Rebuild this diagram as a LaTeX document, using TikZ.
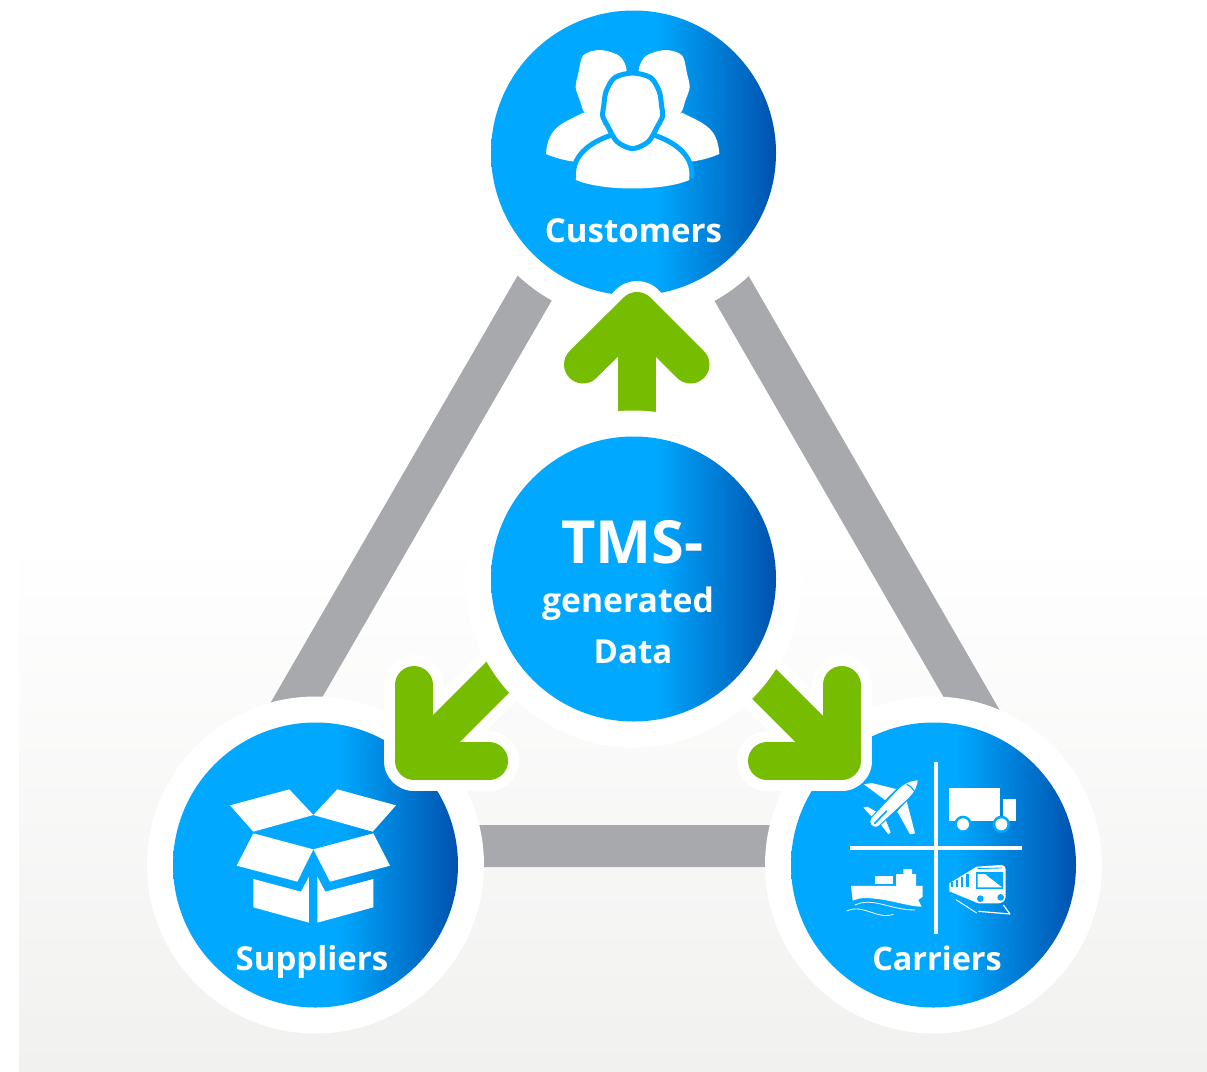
\documentclass[tikz,border=0pt]{standalone}
\usepackage{fontspec}
\setmainfont{Open Sans}
\pgfdeclarehorizontalshading{hubshade}{100bp}{rgb(0bp)=(0,0.66,1); rgb(25bp)=(0,0.66,1); rgb(54bp)=(0,0.66,1); rgb(75bp)=(0,0.32,0.68); rgb(100bp)=(0,0.32,0.68)}
\definecolor{barGray}{HTML}{A7A9AC}
\definecolor{arrowGreen}{HTML}{76BC00}
\definecolor{hubBlue}{HTML}{00A8FF}
\definecolor{floorGray}{HTML}{F1F1F0}
\tikzset{
    hub/.style={circle, minimum size=285pt, inner sep=0pt, shading=hubshade},
    halo/.style={circle, minimum size=337pt, inner sep=0pt, fill=white},
    hublabel/.style={text=white, font=\bfseries\fontsize{33}{36}\selectfont, inner sep=0pt, anchor=base},
    bar/.style={barGray, line width=42pt, line join=miter},
    arrowback/.style={white, line width=60pt, line cap=round, line join=round},
    arrowfront/.style={arrowGreen, line width=38pt, line cap=round, line join=round},
    shaft/.style={arrowGreen, line width=38pt},
}
\begin{document}
\begin{tikzpicture}[x=1pt, y=-1pt]
    \useasboundingbox (0,0) rectangle (1207,1071);
    \shade[top color=white, bottom color=floorGray] (19,540) rectangle (1207,1071);

    % corners of the triangle
    \coordinate (topcorner) at (633,118);
    \coordinate (leftcorner) at (212,846);
    \coordinate (rightcorner) at (1054,846);
    \draw[bar] (topcorner) -- (rightcorner) -- (leftcorner) -- cycle;

    % outer circles
    \node (customershalo) at (633.5,153) [halo] {};
    \node (suppliershalo) at (315.5,865) [halo] {};
    \node (carriershalo) at (933.5,865) [halo] {};
    \node (customers) at (633.5,153) [hub] {};
    \node (suppliers) at (315.5,865) [hub] {};
    \node (carriers) at (933.5,865) [hub] {};

    % arrows
    \coordinate (upstart) at (637,420);
    \coordinate (uptip) at (637,311);
    \coordinate (upleft) at (583,364.5);
    \coordinate (upright) at (690.5,364.5);
    \coordinate (leftstart) at (530,645);
    \coordinate (leftcorn) at (414,761);
    \coordinate (leftup) at (414,685);
    \coordinate (leftside) at (489,761);
    \coordinate (rightstart) at (725,645);
    \coordinate (rightcorn) at (841.5,761);
    \coordinate (rightup) at (841.5,685);
    \coordinate (rightside) at (767,761);

    \draw[arrowback] (upleft) -- (uptip) -- (upright);
    \draw[arrowback] (leftup) -- (leftcorn) -- (leftside);
    \draw[arrowback] (rightup) -- (rightcorn) -- (rightside);
    \draw[arrowback, line cap=butt] (leftstart) -- (leftcorn);
    \draw[arrowback, line cap=butt] (rightstart) -- (rightcorn);
    \draw[shaft] (upstart) -- (uptip);
    \draw[arrowfront] (upleft) -- (uptip) -- (upright);
    \draw[shaft] (leftstart) -- (leftcorn);
    \draw[arrowfront] (leftup) -- (leftcorn) -- (leftside);
    \draw[shaft] (rightstart) -- (rightcorn);
    \draw[arrowfront] (rightup) -- (rightcorn) -- (rightside);

    % middle circle
    \node (datahalo) at (633.5,579) [halo] {};
    \node (data) at (633.5,579) [hub] {};

    \node (customerstext) at (633.5,242) [hublabel] {Customers};
    \node (supplierstext) at (312,970) [hublabel] {Suppliers};
    \node (carrierstext) at (937,970) [hublabel, font=\bfseries\fontsize{32.4}{36}\selectfont] {Carriers};
    \node (tmstext) at (632.5,563.5) [hublabel, font=\bfseries\fontsize{59.5}{62}\selectfont] {TMS-};
    \node (generatedtext) at (628,612.5) [hublabel, font=\bfseries\fontsize{33.7}{36}\selectfont] {generated};
    \node (datatext) at (633,663) [hublabel] {Data};

    % people
    \begin{scope}[shift={(530,30)}, scale=0.3333]
        \foreach \flip in {1,-1} {
            \begin{scope}[shift={(308,0)}, xscale=\flip]
                \fill[white] plot[smooth cycle] coordinates {(-98,60) (-148,76) (-163,130) (-171,172) (-158,212) (-143,250) (-92,284) (-30,210) (-18,122) (-40,78)};
                \fill[white] (-148,248) .. controls (-210,280) and (-255,290) .. (-260,372) .. controls (-230,385) and (-200,392) .. (-175,395) -- (-90,400) -- (-60,300) -- cycle;
            \end{scope}
        }
        \fill[white] (138,450) .. controls (128,395) and (155,345) .. (245,315) -- (371,315) .. controls (461,345) and (488,395) .. (478,450) .. controls (400,484) and (216,484) .. (138,450) -- cycle;
        \draw[hubBlue, line width=5pt, line join=round] (131,445) .. controls (125,395) and (155,345) .. (245,315) -- (371,315) .. controls (461,345) and (491,395) .. (485,445);
        \filldraw[white, draw=hubBlue, line width=5pt] plot[smooth cycle] coordinates {(308,129) (362,143) (388,185) (395,230) (398,258) (382,290) (355,335) (308,356) (261,335) (234,290) (218,258) (221,230) (228,185) (254,143)};
    \end{scope}

    % box
    \begin{scope}[shift={(220,780)}, scale=0.3333]
        \fill[white] (30,76) -- (208,28) -- (280,105) -- (100,155) -- cycle;
        \fill[white] (280,105) -- (352,28) -- (528,76) -- (458,155) -- cycle;
        \fill[white] (100,160) -- (280,208) -- (232,305) -- (50,257) -- cycle;
        \fill[white] (280,208) -- (460,160) -- (510,257) -- (330,305) -- cycle;
        \fill[white] (100,297) -- (243,335) -- (267,290) -- (267,428) -- (100,382) -- cycle;
        \fill[white] (292,290) -- (316,335) -- (460,297) -- (460,382) -- (292,428) -- cycle;
    \end{scope}

    % carriers
    \begin{scope}[shift={(840,755)}, scale=0.3333]
        \draw[white, line width=3.7pt] (288,20) -- (288,537);
        \draw[white, line width=3.7pt] (30,278) -- (546,278);
        % truck
        \fill[white] (328,100) rectangle (480,197);
        \fill[white] (490,133) rectangle (528,197);
        \fill[hubBlue] (369,208) circle (26);
        \fill[hubBlue] (484,208) circle (26);
        \fill[white] (369,208) circle (18);
        \fill[white] (484,208) circle (18);
        % plane
        \fill[white] (72,88) -- (95,84) -- (168,102) -- (135,135) -- cycle;
        \fill[white] (172,170) -- (200,138) -- (225,235) -- (210,238) -- cycle;
        \fill[white] (70,158) -- (82,155) -- (112,172) -- (98,188) -- cycle;
        \fill[white] (120,205) -- (135,190) -- (152,232) -- (145,238) -- cycle;
        \filldraw[white, draw=hubBlue, line width=1pt] (235,74) .. controls (210,76) and (190,85) .. (175,100) -- (93,188) .. controls (83,205) and (95,222) .. (115,215) -- (205,132) .. controls (225,112) and (234,95) .. (235,74) -- cycle;
        \draw[hubBlue, line width=1.6pt, line cap=round] (104,205) -- (140,168);
        \draw[hubBlue, line width=1.2pt] (200,88) .. controls (210,92) and (218,98) .. (222,108);
        % ship
        \fill[white] (33,393) -- (248,393) -- (248,425) -- (235,435) -- (245,455) .. controls (200,455) and (130,425) .. (60,430) -- (38,437) -- cycle;
        \fill[white] (168,357) -- (190,357) -- (190,342) -- (216,342) -- (216,357) -- (228,357) -- (228,393) -- (168,393) -- cycle;
        \fill[white] (105,362) rectangle (160,388);
        \draw[white, line width=0.8pt] (45,450) .. controls (100,425) and (150,465) .. (225,465);
        \draw[white, line width=0.8pt] (20,468) .. controls (70,445) and (110,495) .. (160,478);
        % train
        \fill[white] (328,385) -- (410,335) -- (480,330) .. controls (492,330) and (497,335) .. (497,345) -- (497,425) .. controls (497,438) and (485,445) .. (475,445) -- (415,445) -- (328,409) -- cycle;
        \fill[hubBlue] (408,350) rectangle (490,401);
        \fill[white] (413,357) -- (435,357) -- (486,397) -- (413,397) -- cycle;
        \draw[hubBlue, line width=0.8pt] (412,341) -- (486,339);
        \foreach \xpos/\ytop in {336/381, 351/374, 366/367, 383/358}
            \draw[hubBlue, line width=2.6pt] (\xpos,\ytop) -- (\xpos,396);
        \fill[hubBlue] (421,431) circle (10);
        \fill[hubBlue] (482,427) circle (10);
        \draw[white, line width=0.9pt] (348,434) -- (410,474);
        \draw[white, line width=1.2pt] (415,469) -- (510,477);
        \draw[white, line width=1.2pt] (490,450) -- (510,477);
    \end{scope}
\end{tikzpicture}
\end{document}
